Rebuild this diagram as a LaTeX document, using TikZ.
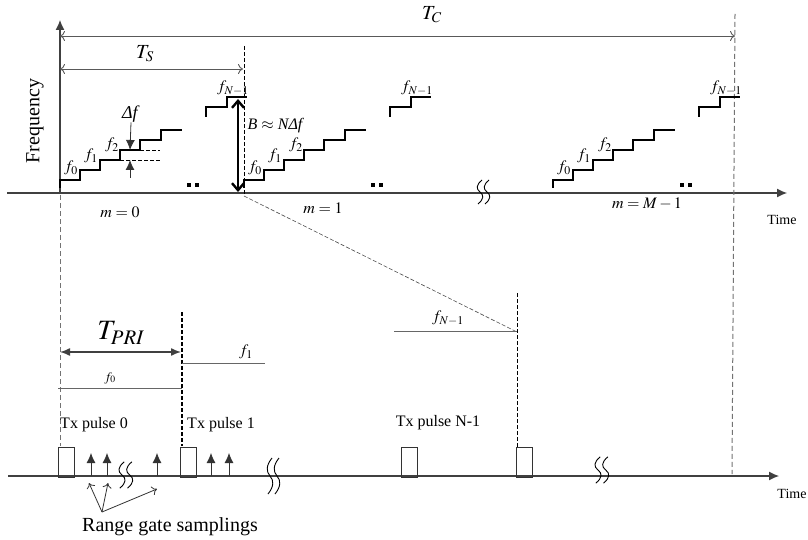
\documentclass[tikz,border=0pt]{standalone}
\usepackage{mathptmx}
\usepackage{fontspec}
\setmainfont{Liberation Serif}
\usetikzlibrary{arrows.meta,positioning}

\tikzset{
  axis/.style={draw=black!75, line width=1.2pt, -{Latex[length=10pt,width=9pt]}},
  stair/.style={draw=black, line width=1.3pt},
  span/.style={draw=black!65, line width=0.9pt, {To[length=5pt,width=10pt]}-{To[length=5pt,width=10pt]}},
  cutline/.style={draw=black!55, line width=1pt, dash pattern=on 5pt off 3pt},
  edgeline/.style={draw=black, line width=0.7pt, dash pattern=on 4pt off 2pt},
  level/.style={draw=black!60, line width=1pt},
  pulse/.style={draw=black!80, line width=0.9pt, minimum width=16pt, minimum height=30pt, inner sep=0pt},
  gate/.style={draw=black!80, line width=0.8pt, -{Latex[length=10pt,width=9pt]}},
  pointer/.style={draw=black!80, line width=0.8pt, -{To[length=5pt,width=9pt]}},
  cutmark/.pic={
    \draw[line width=0.9pt] (2,-12) .. controls (-4,-7) and (-4,-3) .. (0,0) .. controls (4,3) and (4,7) .. (-2,12);
    \draw[line width=0.9pt] (9,-12) .. controls (3,-7) and (3,-3) .. (7,0) .. controls (11,3) and (11,7) .. (5,12);
  }
}

\begin{document}
\begin{tikzpicture}[x=1pt, y=-1pt, every node/.style={font=\fontsize{16}{18}\selectfont, inner sep=0pt}]
\useasboundingbox[fill=white] (0,0) rectangle (808,540);
% frequency plan
\coordinate (tstart) at (7,193);
\coordinate (tend) at (787,193);
\coordinate (orig) at (60,193);
\coordinate (ftop) at (60,20);
\draw[axis] (tstart) -- (tend);
\draw[axis] (orig) -- (ftop);
\node[rotate=90, font=\fontsize{20}{22}\selectfont] (freq) at (35,121) {Frequency};
\node[font=\fontsize{14}{16}\selectfont] (time1) at (782,220) {Time};
\coordinate (tca) at (60,36);
\coordinate (tcb) at (735,36);
\draw[span] (tca) -- (tcb);
\node[font=\fontsize{20}{22}\selectfont] (tc) at (432,15) {$T_C$};
\coordinate (tsa) at (60,69);
\coordinate (tsb) at (243,69);
\draw[span] (tsa) -- (tsb);
\node[font=\fontsize{20}{22}\selectfont] (ts) at (145,54) {$T_S$};
\coordinate (cuttop) at (735,14);
\coordinate (cutbot) at (732,474);
\draw[cutline] (cuttop) -- (cutbot);
\coordinate (sweeptop) at (244,46);
\coordinate (sweepbot) at (244,196);
\coordinate (lastpri) at (517,332);
\draw[edgeline] (sweeptop) -- (sweepbot);
\draw[edgeline, draw=black!70, line width=0.6pt] (sweepbot) -- (lastpri);
% one staircase per sweep
\foreach \dx/\nm in {0/a,184/b,493/c} {
  \begin{scope}[xshift=\dx]
    \draw[stair] (60,188) -- (60,180) -- (80,180) -- (80,170) -- (100,170) -- (100,160) -- (120,160) -- (120,150)
      -- (140,150) -- (140,140) -- (161,140) -- (161,130) -- (182,130);
    \draw[stair] (206,117) -- (206,107) -- (227,107) -- (227,97) -- (247,97);
    \node (f0\nm) at (71,168) {$f_0$};
    \node (f1\nm) at (91,156) {$f_1$};
    \node (f2\nm) at (112,145) {$f_2$};
    \node (fn\nm) at (233,88) {$f_{N-1}$};
    \fill (187,183) rectangle ++(4,4);
    \fill (195,183) rectangle ++(4,4);
  \end{scope}
}
\node (m0) at (120,212) {$m=0$};
\node (m1) at (323,208) {$m=1$};
\node (mM) at (647,204) {$m=M-1$};
% frequency step
\node[font=\fontsize{18}{20}\selectfont] (df) at (131,114) {\textit{Δf}};
\coordinate (dfhi) at (130,150);
\coordinate (dflo) at (130,160);
\coordinate (dfbot) at (130,178);
\draw[gate] (df.south) -- (dfhi);
\draw[gate] (dfbot) -- (dflo);
\draw[edgeline, line width=0.6pt] (140,150) -- (160,150);
\draw[edgeline, line width=0.6pt] (120,160) -- (160,160);
% bandwidth
\coordinate (bwtop) at (238,99);
\coordinate (bwbot) at (238,192);
\draw[line width=2.4pt, {Straight Barb[length=7pt,width=12pt]}-{Straight Barb[length=7pt,width=12pt]}] (bwtop) -- (bwbot);
\node (bw) at (276,126) {\textit{B} $\approx$ \textit{NΔf}};
\pic at (480,192) {cutmark};
% pulse train
\coordinate (bstart) at (8,476);
\coordinate (bend) at (779,476);
\draw[axis] (bstart) -- (bend);
\node[font=\fontsize{14}{16}\selectfont] (time2) at (792,494) {Time};
\coordinate (pritop) at (60,195);
\coordinate (pribot) at (60,446);
\draw[cutline] (pritop) -- (pribot);
\coordinate (pria) at (60,352);
\coordinate (prib) at (181,352);
\draw[draw=black!75, line width=1.4pt, {Latex[length=10pt,width=8pt]}-{Latex[length=10pt,width=8pt]}] (pria) -- (prib);
\node[font=\fontsize{28}{30}\selectfont] (tpri) at (121,333) {$T_{PRI}$};
\coordinate (onetop) at (182,312);
\coordinate (onebot) at (182,446);
\draw[edgeline, line width=1.2pt] (onetop) -- (onebot);
\draw[level] (58,388) -- (182,388);
\node[font=\fontsize{13}{15}\selectfont] (lf0) at (110,378) {$f_0$};
\draw[level] (182,363) -- (265,363);
\node (lf1) at (246,352) {$f_1$};
\draw[level] (394,331) -- (517,331);
\node (lfn) at (448,318) {$f_{N-1}$};
\coordinate (lasttop) at (517,293);
\coordinate (lastbot) at (517,447);
\draw[edgeline] (lasttop) -- (lastbot);
\node[pulse] (p0) at (66.5,462) {};
\node[pulse] (p1) at (188.5,462) {};
\node[pulse] (p2) at (409,462) {};
\node[pulse] (p3) at (524,462) {};
\node (tx0) at (94,425) {Tx pulse 0};
\node (tx1) at (221,425) {Tx pulse 1};
\node (txn) at (438,423) {Tx pulse N-1};
\foreach \x in {91,107,157,211,229}
  \draw[gate] (\x,476) -- (\x,453);
\node[font=\fontsize{20}{22}\selectfont] (rgs) at (170,527) {Range gate samplings};
\coordinate (rgp) at (102,512);
\draw[pointer] (rgp) -- (89,483);
\draw[pointer] (rgp) -- (108,483);
\draw[pointer] (rgp) -- (157,489);
\pic[scale=1.1] at (122,475) {cutmark};
\pic[yscale=1.5] at (270,476) {cutmark};
\pic[scale=1.1] at (598,470) {cutmark};
\end{tikzpicture}
\end{document}
